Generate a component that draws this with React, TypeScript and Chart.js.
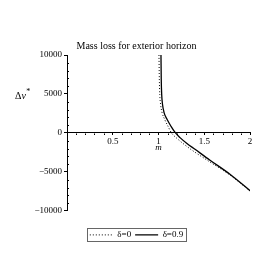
import { useEffect, useRef } from 'react';
import { Chart, registerables } from 'chart.js';

Chart.register(...registerables);

const chartTitle = 'Mass loss for exterior horizon';
const xAxisLabel = 'm';
const seriesLabels = ['δ=0', 'δ=0.9'];

const mDotted = [1.005, 1.009, 1.014, 1.023, 1.038, 1.067, 1.104, 1.142, 1.197, 1.279, 1.377, 1.552, 1.781, 2.0];
const vDotted = [10000, 6900, 4900, 3650, 2650, 1750, 850, 0, -650, -1450, -2300, -3650, -5400, -7450];

const mSolid = [1.027, 1.03, 1.035, 1.044, 1.06, 1.093, 1.137, 1.186, 1.235, 1.311, 1.399, 1.563, 1.781, 2.0];
const vSolid = [10000, 6900, 4900, 3650, 2650, 1750, 850, 0, -600, -1350, -2100, -3500, -5300, -7400];

const xTicks = [0.5, 1, 1.5, 2];
const yTicks = [-10000, -5000, 0, 5000, 10000];
const xMinor = [0.1, 0.2, 0.3, 0.4, 0.6, 0.7, 0.8, 0.9, 1.1, 1.2, 1.3, 1.4, 1.6, 1.7, 1.8, 1.9];
const yMinor = [-9000, -8000, -7000, -6000, -4000, -3000, -2000, -1000, 1000, 2000, 3000, 4000, 6000, 7000, 8000, 9000];

const serif = "'Liberation Serif', 'Times New Roman', serif";

const fmt = (v: number) => (v < 0 ? '\u2212' + Math.abs(v) : String(v));

const decor = {
  id: 'decor',
  afterDraw(chart: any) {
    const { ctx, scales } = chart;
    const xs = scales.x;
    const ys = scales.y;
    ctx.save();
    ctx.strokeStyle = '#000';
    ctx.lineWidth = 1;
    // minor ticks
    const y0 = Math.round(ys.getPixelForValue(0)) + 0.5;
    ctx.beginPath();
    xMinor.forEach((v) => {
      const px = Math.round(xs.getPixelForValue(v)) + 0.5;
      ctx.moveTo(px, y0);
      ctx.lineTo(px, y0 + 1.5);
    });
    const x0 = Math.round(xs.getPixelForValue(0)) + 0.5;
    yMinor.forEach((v) => {
      const py = Math.round(ys.getPixelForValue(v)) + 0.5;
      ctx.moveTo(x0, py);
      ctx.lineTo(x0 + 1.5, py);
    });
    ctx.stroke();

    // y axis label
    ctx.fillStyle = '#000';
    ctx.textBaseline = 'middle';
    ctx.textAlign = 'left';
    const ly = ys.getPixelForValue(4700);
    ctx.font = `10px ${serif}`;
    ctx.fillText('Δ', 15, ly);
    const wD = ctx.measureText('Δ').width;
    ctx.font = `italic 10px ${serif}`;
    ctx.fillText('v', 15 + wD, ly);
    const wv = ctx.measureText('v').width;
    ctx.font = `8px ${serif}`;
    ctx.fillText('*', 15 + wD + wv + 0.5, ly - 4);

    // legend frame
    const lg = chart.legend;
    if (lg && lg.legendHitBoxes && lg.legendHitBoxes.length) {
      const hb = lg.legendHitBoxes;
      const left = Math.min(...hb.map((h: any) => h.left)) - 3;
      const right = Math.max(...hb.map((h: any) => h.left + h.width)) + 3;
      const top = Math.min(...hb.map((h: any) => h.top)) - 2;
      const bottom = Math.max(...hb.map((h: any) => h.top + h.height)) + 2;
      ctx.strokeStyle = '#666';
      ctx.strokeRect(Math.round(left) + 0.5, Math.round(top) + 0.5, Math.round(right - left), Math.round(bottom - top));
    }
    ctx.restore();
  },
};

export default function App() {
  const ref = useRef<HTMLCanvasElement>(null);
  useEffect(() => {
    const dashes = [[1, 2], []];
    const chart = new Chart(ref.current as HTMLCanvasElement, {
      type: 'line',
      data: {
        datasets: [
          {
            label: seriesLabels[0],
            data: mDotted.map((m, i) => ({ x: m, y: vDotted[i] })),
            borderColor: '#000',
            backgroundColor: '#000',
            borderWidth: 1,
            borderDash: dashes[0],
            pointRadius: 0,
            cubicInterpolationMode: 'monotone',
            fill: false,
          },
          {
            label: seriesLabels[1],
            data: mSolid.map((m, i) => ({ x: m, y: vSolid[i] })),
            borderColor: '#000',
            backgroundColor: '#000',
            borderWidth: 1.3,
            borderDash: dashes[1],
            pointRadius: 0,
            cubicInterpolationMode: 'monotone',
            fill: false,
          },
        ],
      },
      options: {
        animation: false,
        responsive: false,
        events: [],
        layout: { padding: { top: 40, left: 23, right: 23, bottom: 23.6 } },
        scales: {
          x: {
            type: 'linear',
            min: 0,
            max: 2,
            position: { y: 0 } as any,
            afterBuildTicks: (s: any) => {
              s.ticks = xTicks.map((v) => ({ value: v }));
            },
            afterFit: (s: any) => {
              s.height = 19.9;
            },
            grid: { drawOnChartArea: false, color: '#000', tickLength: 2 },
            border: { color: '#000', width: 1 },
            ticks: { color: '#000', font: { family: serif, size: 9 }, padding: 1, maxRotation: 0, callback: (v: any) => String(v) },
            title: { display: true, text: xAxisLabel, color: '#000', font: { family: serif, size: 9, style: 'italic' }, padding: { top: 0, bottom: 0 } },
          },
          y: {
            type: 'linear',
            min: -10000,
            max: 10000,
            position: 'left',
            afterBuildTicks: (s: any) => {
              s.ticks = yTicks.map((v) => ({ value: v }));
            },
            afterFit: (s: any) => {
              s.width = 44;
            },
            grid: { drawOnChartArea: false, color: '#000', tickLength: 3 },
            border: { color: '#000', width: 1 },
            ticks: { color: '#000', font: { family: serif, size: 9 }, padding: 2, callback: (v: any) => fmt(Number(v)) },
          },
        },
        plugins: {
          tooltip: { enabled: false },
          title: {
            display: true,
            text: chartTitle,
            color: '#000',
            font: { family: serif, size: 10, weight: 'normal' },
            padding: { top: 0, bottom: 3 },
          },
          legend: {
            display: true,
            position: 'bottom',
            title: { display: true, text: '', font: { size: 10, lineHeight: 1 }, padding: { top: 5.5, bottom: 0 } },
            labels: {
              color: '#000',
              font: { family: serif, size: 9 },
              usePointStyle: true,
              pointStyle: 'line',
              pointStyleWidth: 23,
              padding: 4,
              generateLabels: (c: any) =>
                Chart.defaults.plugins.legend.labels.generateLabels(c).map((it: any, i: number) => ({
                  ...it,
                  lineDash: dashes[i],
                  lineWidth: i === 0 ? 1 : 1.3,
                  strokeStyle: '#000',
                  pointStyle: 'line',
                })),
            },
          },
        },
      } as any,
      plugins: [decor],
    });
    return () => chart.destroy();
  }, []);
  return (
    <div style={{ position: 'fixed', left: 0, top: 0, width: 273, height: 273, background: '#fff' }}>
      <canvas ref={ref} width={273} height={273} style={{ width: 273, height: 273, display: 'block' }} />
    </div>
  );
}
